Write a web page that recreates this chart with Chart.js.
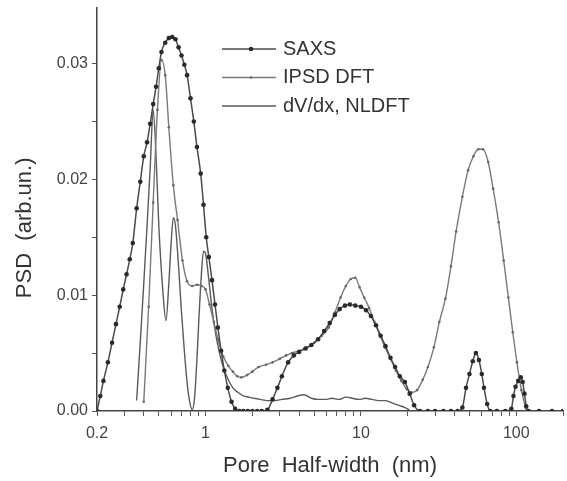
<!DOCTYPE html>
<html>
<head>
<meta charset="utf-8">
<script src="https://cdn.jsdelivr.net/npm/chart.js@4.4.0/dist/chart.umd.min.js"></script>
<style>
  html, body { margin: 0; padding: 0; background: #fff; }
  #wrap { width: 567px; height: 481px; }
</style>
</head>
<body>
<div id="wrap"><canvas id="grafico" width="567" height="481"></canvas></div>
<script>
// SAXS (line with dots)
var saxsX = [0.2,0.21,0.22,0.235,0.25,0.265,0.28,0.295,0.31,0.325,0.34,0.36,0.38,0.4,0.42,0.44,0.46,0.48,0.5,0.52,0.55,0.58,0.61,0.64,0.67,0.7,0.73,0.76,0.8,0.84,0.88,0.93,0.97,1.01,1.05,1.1,1.15,1.2,1.26,1.32,1.39,1.47,1.55,1.65,1.75,1.87,2.0,2.15,2.3,2.5,2.7,2.9,3.1,3.4,3.7,4.0,4.4,4.8,5.3,5.8,6.3,6.8,7.3,7.9,8.5,9.2,10,10.8,11.6,12.5,13.4,14.4,15.5,16.6,17.8,19.2,20.6,22,24,27,30,34,38,42,45,47.5,50,52.5,55,57.5,60,62,65,68,75,85,93,96,99,103,107,110,113,116,120,140,170,200];
var saxsY = [0,0.0013,0.0026,0.0042,0.0059,0.0075,0.009,0.0105,0.0118,0.0131,0.0145,0.0175,0.0198,0.022,0.0232,0.0248,0.0265,0.028,0.0296,0.031,0.0318,0.0322,0.0323,0.0321,0.0314,0.0307,0.0299,0.029,0.027,0.025,0.0228,0.0205,0.0178,0.015,0.0133,0.0113,0.0092,0.0072,0.0052,0.0035,0.002,0.0008,0.0002,0,0,0,0,0,0,0.0001,0.001,0.002,0.003,0.0042,0.0048,0.0051,0.0054,0.0057,0.0062,0.0069,0.0076,0.0083,0.0088,0.0091,0.0092,0.0091,0.009,0.0087,0.0082,0.0074,0.0065,0.0056,0.0046,0.0038,0.003,0.0025,0.0015,0.0005,0,0,0,0,0,0,0.0003,0.002,0.0032,0.0043,0.005,0.0044,0.0032,0.002,0.0006,0,0,0,0.0002,0.0013,0.0021,0.0026,0.0029,0.0025,0.0015,0.0004,0,0,0,0];

// IPSD DFT (thin line, small markers)
var ipsdX = [0.4,0.43,0.46,0.49,0.52,0.55,0.58,0.62,0.66,0.71,0.76,0.82,0.88,0.94,1.0,1.06,1.13,1.2,1.3,1.4,1.5,1.6,1.7,1.85,2.0,2.2,2.45,2.7,3.0,3.3,3.6,4.0,4.5,5.0,5.6,6.2,6.8,7.4,8.0,8.6,9.2,9.8,10.5,11.3,12.2,13.2,14.3,15.5,16.8,18.2,19.7,21.2,23,25,27,29.5,32,35,38,41,45,49,53,57,61,66,71,77,83,89,95,101,108,116];
var ipsdY = [0.0008,0.009,0.018,0.026,0.0303,0.029,0.0245,0.0195,0.0165,0.013,0.0112,0.0108,0.0109,0.0108,0.0105,0.0092,0.0077,0.0062,0.0047,0.0039,0.0034,0.003,0.0029,0.0031,0.0034,0.0038,0.004,0.0042,0.0045,0.0048,0.005,0.0052,0.0055,0.0059,0.0065,0.0072,0.0085,0.0098,0.0108,0.0114,0.0115,0.0107,0.0098,0.0089,0.0077,0.0066,0.0055,0.0045,0.0035,0.0026,0.0019,0.0016,0.0018,0.0027,0.0038,0.0055,0.0077,0.0097,0.0125,0.0155,0.0185,0.0208,0.022,0.0226,0.0226,0.0215,0.0192,0.0163,0.013,0.0098,0.0068,0.0042,0.0018,0];

// dV/dx, NLDFT (plain line)
var nldftX = [0.36,0.38,0.4,0.42,0.44,0.46,0.48,0.5,0.53,0.556,0.58,0.6,0.62,0.64,0.67,0.7,0.73,0.76,0.79,0.82,0.85,0.88,0.91,0.94,0.97,1.0,1.04,1.09,1.15,1.22,1.3,1.4,1.5,1.62,1.75,1.9,2.05,2.25,2.5,2.8,3.1,3.5,3.9,4.3,4.8,5.3,5.9,6.5,7.2,8.0,8.8,9.7,10.7,11.8,13,14.3,15.8,17.4,19.2,20.5];
var nldftY = [0.0009,0.006,0.011,0.016,0.021,0.026,0.022,0.016,0.0105,0.0078,0.011,0.0145,0.0167,0.016,0.0125,0.0085,0.0052,0.0025,0.0008,0.0001,0.0012,0.0045,0.0085,0.0118,0.0138,0.0136,0.0118,0.0093,0.007,0.0052,0.0038,0.0027,0.002,0.0016,0.0013,0.0012,0.0011,0.001,0.0009,0.0009,0.001,0.0011,0.0013,0.0014,0.0011,0.001,0.001,0.0011,0.001,0.0012,0.0011,0.001,0.0011,0.001,0.0009,0.0009,0.0007,0.0005,0.0003,0.0001];

var seriesNames = ["SAXS", "IPSD DFT", "dV/dx, NLDFT"];

var xTicks = [0.2,0.3,0.4,0.5,0.6,0.7,0.8,0.9,1,2,3,4,5,6,7,8,9,10,20,30,40,50,60,70,80,90,100,200];
var xLabels = [0.2, 1, 10, 100];
var yTicks = [0,0.005,0.01,0.015,0.02,0.025,0.03];
var yLabels = [0, 0.01, 0.02, 0.03];

function pares(xs, ys) {
  var out = [];
  for (var i = 0; i < xs.length; i++) {
    out.push({x: xs[i], y: ys[i]});
  }
  return out;
}

var fonte = '"Liberation Sans", Arial, sans-serif';

var legendaLateral = {
  id: 'legendaLateral',
  afterDatasetsDraw: function(chart) {
    var ctx = chart.ctx;
    chart.data.datasets.forEach(function(ds, i) {
      var y = 49 + i * 28.5;
      ctx.save();
      ctx.strokeStyle = ds.borderColor;
      ctx.lineWidth = ds.borderWidth;
      ctx.beginPath();
      ctx.moveTo(222, y);
      ctx.lineTo(276, y);
      ctx.stroke();
      if (ds.pointRadius > 0) {
        ctx.fillStyle = ds.pointBackgroundColor;
        ctx.beginPath();
        ctx.arc(251, y, ds.pointRadius, 0, Math.PI * 2);
        ctx.fill();
      }
      ctx.fillStyle = '#333';
      ctx.font = '20px ' + fonte;
      ctx.textBaseline = 'middle';
      ctx.fillText(ds.label, 283, y);
      ctx.restore();
    });
  }
};

window.onload = function() {
  var ctx = document.getElementById('grafico').getContext('2d');
  var myChart = new Chart(ctx, {
    type: 'line',
    data: {
      datasets: [{
        label: seriesNames[0],
        data: pares(saxsX, saxsY),
        borderColor: '#4a4a4a',
        borderWidth: 1.5,
        pointRadius: 2.3,
        pointBackgroundColor: '#2a2a2a',
        pointBorderWidth: 0,
        cubicInterpolationMode: 'monotone'
      }, {
        label: seriesNames[1],
        data: pares(ipsdX, ipsdY),
        borderColor: '#7a7a7a',
        borderWidth: 1.4,
        pointRadius: 1.3,
        pointBackgroundColor: '#666',
        pointBorderWidth: 0,
        cubicInterpolationMode: 'monotone'
      }, {
        label: seriesNames[2],
        data: pares(nldftX, nldftY),
        borderColor: '#5a5a5a',
        borderWidth: 1.4,
        pointRadius: 0,
        cubicInterpolationMode: 'monotone'
      }]
    },
    options: {
      responsive: false,
      animation: false,
      layout: { padding: { top: 8, right: 2, left: 0, bottom: 0 } },
      plugins: {
        legend: { display: false },
        tooltip: { enabled: false }
      },
      scales: {
        x: {
          type: 'logarithmic',
          min: 0.2,
          max: 200,
          afterBuildTicks: function(scale) {
            scale.ticks = xTicks.map(function(v) { return {value: v}; });
          },
          afterFit: function(scale) {
            scale.height = 70;
            scale.paddingLeft = 0;
            scale.paddingRight = 0;
          },
          ticks: {
            autoSkip: false,
            maxRotation: 0,
            padding: 8,
            color: '#444',
            font: { size: 16, family: fonte },
            callback: function(v) { return xLabels.indexOf(v) >= 0 ? String(v) : ''; }
          },
          grid: { drawOnChartArea: false, tickLength: 5, color: '#555' },
          border: { color: '#444', width: 1.5 },
          title: {
            display: true,
            text: 'Pore  Half-width  (nm)',
            color: '#333',
            font: { size: 22, family: fonte },
            padding: { top: 0, bottom: 2 }
          }
        },
        y: {
          min: 0,
          max: 0.0348,
          afterBuildTicks: function(scale) {
            scale.ticks = yTicks.map(function(v) { return {value: v}; });
          },
          afterFit: function(scale) {
            scale.width = 97;
            scale.paddingTop = 0;
            scale.paddingBottom = 0;
          },
          ticks: {
            autoSkip: false,
            padding: 4,
            color: '#444',
            font: { size: 16, family: fonte },
            callback: function(v) { return yLabels.indexOf(v) >= 0 ? v.toFixed(2) : ''; }
          },
          grid: { drawOnChartArea: false, tickLength: 5, color: '#555' },
          border: { color: '#444', width: 1.5 },
          title: {
            display: true,
            text: 'PSD  (arb.un.)      ',
            color: '#333',
            font: { size: 22, family: fonte },
            padding: { top: 12, bottom: 0 }
          }
        }
      }
    },
    plugins: [legendaLateral]
  });
};
</script>
</body>
</html>
